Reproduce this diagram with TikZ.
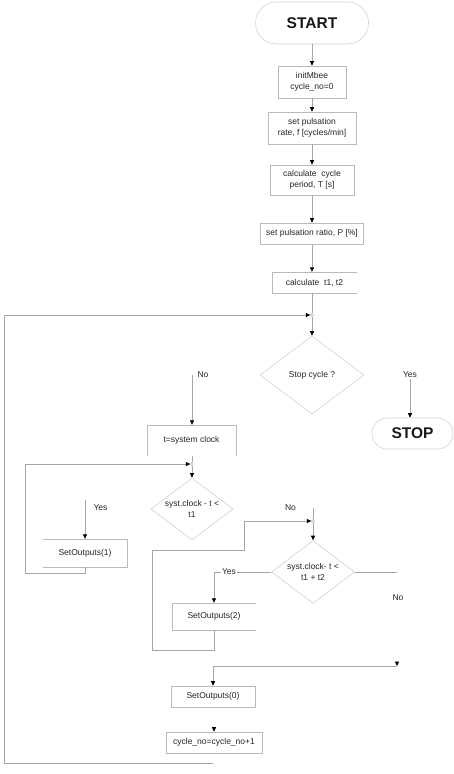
\documentclass[tikz,border=0pt]{standalone}
\usepackage{fontspec}
\setmainfont{Liberation Sans}
\usetikzlibrary{shapes.geometric,arrows.meta}
\begin{document}
\begin{tikzpicture}[x=1pt,y=-1pt,
  conn/.style={draw=gray!70, line width=0.6pt},
  arr/.style={conn, -{Triangle[length=4.5pt,width=4pt,color=black]}},
  boxline/.style={draw=gray!55, line width=0.6pt},
  txt/.style={font=\fontsize{8.5}{11}\selectfont, text=black!85, align=center},
  procbox/.style={txt, boxline, inner sep=0pt},
  openbox/.style={txt, inner sep=0pt},
  terminal/.style={draw=gray!35, line width=0.6pt, inner sep=0pt,
    font=\bfseries\fontsize{15.5}{18}\selectfont, text=black!90},
  decision/.style={diamond, txt, draw=gray!35, line width=0.6pt, inner sep=0pt, aspect=1.3},
  lbl/.style={txt, inner sep=1pt},
  junction/.style={circle, draw=gray!60, fill=white, inner sep=0pt, minimum size=3pt, line width=0.4pt}
]
\useasboundingbox (0,0) rectangle (454,774);
\fill[white] (0,0) rectangle (454,774);

% main column
\node[terminal, minimum width=113pt, minimum height=42pt, rounded corners=21pt] (start) at (312,23) {START};
\node[procbox, minimum width=68pt, minimum height=32pt] (init) at (312,82) {initMbee\\cycle\_no=0};
\node[procbox, minimum width=88pt, minimum height=32pt] (rate) at (312,128) {set pulsation\\rate, f [cycles/min]};
\node[procbox, minimum width=84pt, minimum height=30pt] (period) at (312,180) {calculate\ \ cycle\\period, T [s]};
\node[procbox, minimum width=103pt, minimum height=21pt] (ratio) at (312,233.5) {set pulsation ratio, P [\%]};
\node[openbox, minimum width=85pt, minimum height=21pt] (tcalc) at (314.5,282.5) {calculate\ \ t1, t2};
\draw[boxline] (tcalc.north east) -- (tcalc.north west) -- (tcalc.south west) -- (tcalc.south east);

\node[junction] (j1) at (312,315) {};
\node[decision, minimum width=104pt, minimum height=78pt] (stopq) at (312,375) {Stop cycle ?};

\node[lbl] (yesA) at (410,375) {Yes};
\node[terminal, minimum width=81pt, minimum height=31pt, rounded corners=15.5pt] (stop) at (412.5,433.5) {STOP};

\node[lbl] (noA) at (203,375) {No};
\coordinate (noAs) at (192,375);
\node[openbox, minimum width=89pt, minimum height=31pt] (tsys) at (191.5,440.5) {t=system clock};
\draw[boxline] (tsys.south west) -- (tsys.north west) -- (tsys.north east) -- (tsys.south east);

\node[junction] (j2) at (192,464) {};
\node[decision, minimum width=82pt, minimum height=62pt] (d1) at (192,509) {syst.clock - t <\\t1};

\node[lbl] (yesB) at (100.5,508) {Yes};
\coordinate (yesBs) at (85,500);
\node[openbox, minimum width=84pt, minimum height=28pt] (so1) at (85,553) {SetOutputs(1)};
\draw[boxline] (so1.north west) -- (so1.north east) -- (so1.south east) -- (so1.south west);
\coordinate (l2) at (25,573);

\node[lbl] (noB) at (290.5,508) {No};
\coordinate (noBs) at (313,508);
\node[junction] (j3) at (313,521) {};
\node[decision, minimum width=83pt, minimum height=63pt] (d2) at (313,572) {syst.clock- t <\\t1 + t2};

\node[lbl] (yesC) at (229,572) {Yes};
\node[openbox, minimum width=84pt, minimum height=27pt] (so2) at (214,616.5) {SetOutputs(2)};
\draw[boxline] (so2.north east) -- (so2.north west) -- (so2.south west) -- (so2.south east);
\coordinate (l3a) at (152,650);
\coordinate (l3b) at (244,550);

\coordinate (noCe) at (397,572);
\node[lbl] (noC) at (398,598) {No};
\coordinate (m0) at (397,666);

\node[procbox, minimum width=84pt, minimum height=21pt] (so0) at (213,696.5) {SetOutputs(0)};
\node[procbox, minimum width=96pt, minimum height=21pt] (cyc) at (214,742.5) {cycle\_no=cycle\_no+1};
\coordinate (loopend) at (213,763);
\coordinate (l1) at (4,763);

% connectors
\draw[arr] (start) -- (init);
\draw[arr] (init) -- (rate);
\draw[arr] (rate) -- (period);
\draw[arr] (period) -- (ratio);
\draw[arr] (ratio.south) -- (ratio.south |- tcalc.north);
\draw[conn] (tcalc.south -| j1) -- (j1);
\draw[arr] (j1) -- (stopq);
\draw[arr] (loopend) -- (l1) |- (j1);

\draw[arr] (yesA.south) -- (stop.north -| yesA.south);
\draw[arr] (noAs) -- (noAs |- tsys.north);
\draw[conn] (tsys.south -| j2) -- (j2);
\draw[arr] (j2) -- (d1);

\draw[arr] (yesBs) -- (so1.north);
\draw[arr] (so1.south) |- (l2) |- (j2);

\draw[conn] (noBs) -- (j3);
\draw[arr] (j3) -- (d2);
\draw[conn] (d2.west) -- (yesC.east);
\draw[arr] (yesC.west) -| (so2.north);
\draw[arr] (so2.south) |- (l3a) |- (l3b) |- (j3);

\draw[conn] (d2.east) -- (noCe);
\draw[arr] ([yshift=4.5pt]m0) -- (m0);
\draw[arr] (m0) -| (so0.north);
\draw[arr] ([yshift=5pt]cyc.north) -- (cyc.north);
\end{tikzpicture}
\end{document}
